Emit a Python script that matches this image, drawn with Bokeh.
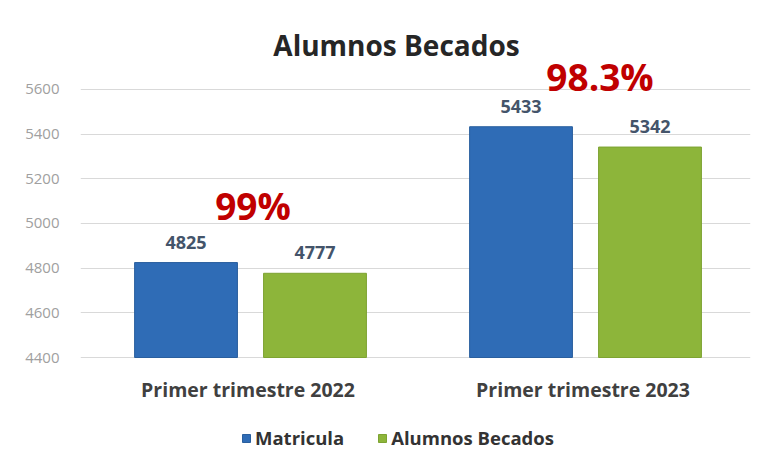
from bokeh.plotting import figure
from bokeh.models import FactorRange, FixedTicker, ColumnDataSource, Legend, LegendItem
from bokeh.transform import dodge
from bokeh.core.properties import value
from bokeh.embed import file_html
from bokeh.resources import INLINE

categories = ["Primer trimestre 2022", "Primer trimestre 2023"]
matricula = [4825, 5433]
becados = [4777, 5342]
pct_labels = ["99%", "98.3%"]
y_ticks = [4400, 4600, 4800, 5000, 5200, 5400, 5600]

# label placement (styling only)
pct_dx = [5, 17]
pct_dy = [-57, -50]

BLUE = "#2F6CB6"
GREEN = "#8DB53A"
FONT = "Open Sans"

p = figure(x_range=FactorRange(*categories, range_padding=0), y_range=(3939, 5998),
           width=764, height=460, output_backend="svg", toolbar_location=None,
           min_border_left=80, min_border_right=14, min_border_top=0, min_border_bottom=0)

src = ColumnDataSource(dict(cat=categories, mat=matricula, bec=becados,
                            mat_s=[str(v) for v in matricula], bec_s=[str(v) for v in becados],
                            top=[max(a, b) for a, b in zip(matricula, becados)],
                            pct=pct_labels, dx=pct_dx, dy=pct_dy))

r1 = p.vbar(x=dodge("cat", -0.185, range=p.x_range), top="mat", bottom=4400, width=0.307,
            source=src, fill_color=BLUE, line_color="#2A5F9E", line_width=1)
r2 = p.vbar(x=dodge("cat", 0.2, range=p.x_range), top="bec", bottom=4400, width=0.307,
            source=src, fill_color=GREEN, line_color="#7DA332", line_width=1)

p.text(x=dodge("cat", -0.185, range=p.x_range), y="mat", text="mat_s", source=src,
       text_align="center", text_baseline="bottom", y_offset=-14,
       text_font=value(FONT), text_font_size="18px", text_font_style="bold", text_color="#44546A")
p.text(x=dodge("cat", 0.2, range=p.x_range), y="bec", text="bec_s", source=src,
       text_align="center", text_baseline="bottom", y_offset=-14,
       text_font=value(FONT), text_font_size="18px", text_font_style="bold", text_color="#44546A")
p.text(x="cat", y="top", text="pct", source=src, x_offset="dx", y_offset="dy",
       text_align="center", text_baseline="middle",
       text_font=value(FONT), text_font_size="37px", text_font_style="bold", text_color="#C00000")

# category labels under the bars
p.text(x="cat", y=4400, text="cat", source=src, y_offset=32,
       text_align="center", text_baseline="middle",
       text_font=value(FONT), text_font_size="19.5px", text_font_style="bold", text_color="#404040")

# chart title
p.text(x=[1.0], y=[5600], text=["Alumnos Becados"], x_offset=-19, y_offset=-44,
       text_align="center", text_baseline="middle",
       text_font=value(FONT), text_font_size="28px", text_font_style="bold", text_color="#262626")

p.yaxis.ticker = FixedTicker(ticks=y_ticks)
p.yaxis.axis_line_color = None
p.yaxis.major_tick_line_color = None
p.yaxis.minor_tick_line_color = None
p.yaxis.major_label_text_color = "#A0A0A0"
p.yaxis.major_label_text_font = FONT
p.yaxis.major_label_text_font_size = "15px"
p.yaxis.major_label_standoff = 15

p.xaxis.visible = False
p.xgrid.grid_line_color = None
p.ygrid.ticker = FixedTicker(ticks=y_ticks)
p.ygrid.grid_line_color = "#D9D9D9"
p.ygrid.grid_line_width = 1
p.outline_line_color = None

legend = Legend(items=[LegendItem(label="Matricula", renderers=[r1]),
                       LegendItem(label="Alumnos Becados", renderers=[r2])],
                orientation="horizontal", location=(161, 10),
                label_text_font=FONT, label_text_font_size="18.5px",
                label_text_font_style="bold", label_text_color="#333333",
                glyph_width=10, glyph_height=10, spacing=33, label_standoff=4,
                border_line_color=None, background_fill_alpha=0, padding=6)
p.add_layout(legend)

open("out.html", "w").write(file_html(p, INLINE))
